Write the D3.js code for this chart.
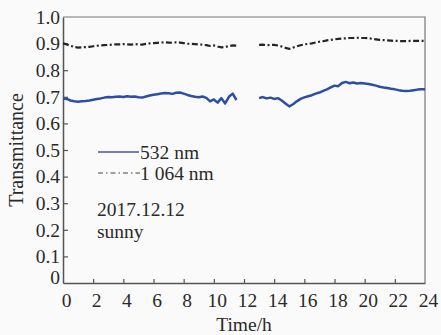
<!DOCTYPE html>
<html>
<head>
<meta charset="utf-8">
<script src="https://cdn.jsdelivr.net/npm/d3@7"></script>
<style>
  html, body { margin: 0; padding: 0; background: #fafafa; }
</style>
</head>
<body>
<svg id="chart" width="441" height="335"></svg>
<script>
// sample times (h)
const hours = [
  0, 0.25, 0.5, 0.75, 1, 1.25, 1.5, 1.75, 2, 2.25, 2.5, 2.75, 3, 3.25, 3.5, 3.75,
  4, 4.25, 4.5, 4.75, 5, 5.25, 5.5, 5.75, 6, 6.25, 6.5, 6.75, 7, 7.25, 7.5, 7.75,
  8, 8.25, 8.5, 8.75, 9, 9.25, 9.5, 9.75, 10, 10.25, 10.5, 10.75, 11, 11.25, 11.5,
  11.75, 12, 12.25, 12.5, 12.75,
  13, 13.25, 13.5, 13.75, 14, 14.25, 14.5, 14.75, 15, 15.25, 15.5, 15.75,
  16, 16.25, 16.5, 16.75, 17, 17.25, 17.5, 17.75, 18, 18.25, 18.5, 18.75,
  19, 19.25, 19.5, 19.75, 20, 20.25, 20.5, 20.75, 21, 21.25, 21.5, 21.75,
  22, 22.25, 22.5, 22.75, 23, 23.25, 23.5, 23.75, 24
];

// 532 nm transmittance (null = no measurement)
const trans532 = [
  0.694, 0.692, 0.686, 0.683, 0.681, 0.683, 0.684, 0.686, 0.689, 0.692, 0.694, 0.697, 0.699, 0.698, 0.700, 0.701,
  0.699, 0.702, 0.700, 0.701, 0.698, 0.697, 0.701, 0.705, 0.708, 0.710, 0.712, 0.714, 0.713, 0.711, 0.715, 0.716,
  0.712, 0.707, 0.703, 0.700, 0.698, 0.701, 0.696, 0.683, 0.690, 0.678, 0.695, 0.675, 0.700, 0.712, 0.688,
  null, null, null, null, null,
  0.695, 0.699, 0.694, 0.697, 0.692, 0.695, 0.686, 0.675, 0.664, 0.672, 0.683, 0.692,
  0.698, 0.702, 0.706, 0.712, 0.716, 0.722, 0.728, 0.735, 0.742, 0.740, 0.752, 0.756,
  0.751, 0.754, 0.750, 0.752, 0.750, 0.748, 0.745, 0.742, 0.738, 0.735, 0.733, 0.730,
  0.728, 0.725, 0.723, 0.722, 0.723, 0.725, 0.727, 0.728, 0.728
];

// 1 064 nm transmittance
const trans1064 = [
  0.901, 0.897, 0.892, 0.887, 0.885, 0.886, 0.887, 0.888, 0.890, 0.892, 0.893, 0.894, 0.895, 0.896, 0.897, 0.897,
  0.898, 0.897, 0.896, 0.898, 0.897, 0.896, 0.899, 0.901, 0.902, 0.903, 0.904, 0.905, 0.904, 0.903, 0.905, 0.904,
  0.902, 0.900, 0.899, 0.898, 0.897, 0.896, 0.894, 0.891, 0.893, 0.889, 0.886, 0.887, 0.891, 0.893, 0.892,
  null, null, null, null, null,
  0.895, 0.896, 0.894, 0.895, 0.895, 0.893, 0.889, 0.884, 0.880, 0.885, 0.890, 0.894,
  0.897, 0.899, 0.901, 0.904, 0.907, 0.909, 0.912, 0.914, 0.916, 0.918, 0.919, 0.920,
  0.921, 0.921, 0.922, 0.921, 0.921, 0.920, 0.918, 0.916, 0.914, 0.913, 0.912, 0.911,
  0.910, 0.910, 0.909, 0.909, 0.910, 0.910, 0.910, 0.910, 0.910
];

const xTicks = [0, 2, 4, 6, 8, 10, 12, 14, 16, 18, 20, 22, 24];
const yTicks = [0, 0.1, 0.2, 0.3, 0.4, 0.5, 0.6, 0.7, 0.8, 0.9, 1.0];

const svg = d3.select("#chart");
const margin = { left: 63, right: 16, top: 17, bottom: 52 };
const width = 441, height = 335;
const serif = "'Liberation Serif', 'Times New Roman', serif";
const fs = 19.5;
const textColor = "#2a2a2a";

const x = d3.scaleLinear().domain([0, 24]).range([margin.left, width - margin.right]);
const y = d3.scaleLinear().domain([0, 1]).range([height - margin.bottom, margin.top]);

const axisColor = "#555";

// frame (top + right)
svg.append("path")
  .attr("d", `M${x(0)},${y(1)}H${x(24)}V${y(0)}`)
  .attr("fill", "none")
  .attr("stroke", "#777")
  .attr("stroke-width", 1.2);

// x axis with inward ticks
const xAxis = svg.append("g")
  .attr("transform", `translate(0,${y(0)})`)
  .call(d3.axisBottom(x).tickValues(xTicks).tickSizeInner(-4).tickSizeOuter(0).tickPadding(7)
    .tickFormat(d => (d === 0 ? "0" : d)));
xAxis.select(".domain").attr("stroke", axisColor).attr("stroke-width", 1.5);
xAxis.selectAll(".tick line").attr("stroke", axisColor).attr("stroke-width", 1.2);
xAxis.selectAll(".tick text")
  .attr("dx", 3).attr("dy", "0.85em")
  .style("font-family", serif).style("font-size", fs + "px").attr("fill", textColor);
xAxis.selectAll(".tick").filter(d => d === 0 || d === 24).select("line").remove();

// y axis with inward ticks
const yAxis = svg.append("g")
  .attr("transform", `translate(${x(0)},0)`)
  .call(d3.axisLeft(y).tickValues(yTicks).tickSizeInner(-5).tickSizeOuter(0).tickPadding(3)
    .tickFormat(d => (d === 0 ? "0" : d3.format(".1f")(d))));
yAxis.select(".domain").attr("stroke", axisColor).attr("stroke-width", 1.5);
yAxis.selectAll(".tick line").attr("stroke", axisColor).attr("stroke-width", 1.2);
yAxis.selectAll(".tick text")
  .style("font-family", serif).style("font-size", fs + "px").attr("fill", textColor);
yAxis.selectAll(".tick").filter(d => d === 0 || d === 1).select("line").remove();
yAxis.selectAll(".tick").filter(d => d === 0).select("text").attr("dy", "0.05em");

// axis titles
svg.append("text")
  .attr("x", (x(0) + x(24)) / 2)
  .attr("y", 331)
  .attr("text-anchor", "middle")
  .style("font-family", serif).style("font-size", fs + "px").attr("fill", textColor)
  .text("Time/h");

svg.append("text")
  .attr("transform", `translate(23,${(y(0) + y(1)) / 2}) rotate(-90)`)
  .attr("text-anchor", "middle")
  .style("font-family", serif).style("font-size", "20px").attr("fill", textColor)
  .text("Transmittance");

// lines
const rows = hours.map((h, i) => ({ h, a: trans532[i], b: trans1064[i] }));

const line532 = d3.line()
  .defined(d => d.a !== null)
  .x(d => x(d.h))
  .y(d => y(d.a));

const line1064 = d3.line()
  .defined(d => d.b !== null)
  .x(d => x(d.h))
  .y(d => y(d.b));

svg.append("path")
  .datum(rows)
  .attr("d", line1064)
  .attr("fill", "none")
  .attr("stroke", "#2a2420")
  .attr("stroke-width", 2.2)
  .attr("stroke-dasharray", "6,2.5,2,2.5");

svg.append("path")
  .datum(rows)
  .attr("d", line532)
  .attr("fill", "none")
  .attr("stroke", "#2d4ea6")
  .attr("stroke-width", 2.5)
  .attr("stroke-linejoin", "round");

// legend
const legend = svg.append("g")
  .style("font-family", serif).style("font-size", fs + "px").attr("fill", textColor);
legend.append("line")
  .attr("x1", 98).attr("x2", 139).attr("y1", 152).attr("y2", 152)
  .attr("stroke", "#4b52a8").attr("stroke-width", 1.5);
legend.append("text").attr("x", 140).attr("y", 159).text("532 nm");
legend.append("line")
  .attr("x1", 98).attr("x2", 140).attr("y1", 173).attr("y2", 173)
  .attr("stroke", "#444").attr("stroke-width", 1.2)
  .attr("stroke-dasharray", "5,3,1.5,3");
legend.append("text").attr("x", 140).attr("y", 180).text("1 064 nm");
legend.append("text").attr("x", 97).attr("y", 216).text("2017.12.12");
legend.append("text").attr("x", 97).attr("y", 238).text("sunny");
</script>
</body>
</html>
